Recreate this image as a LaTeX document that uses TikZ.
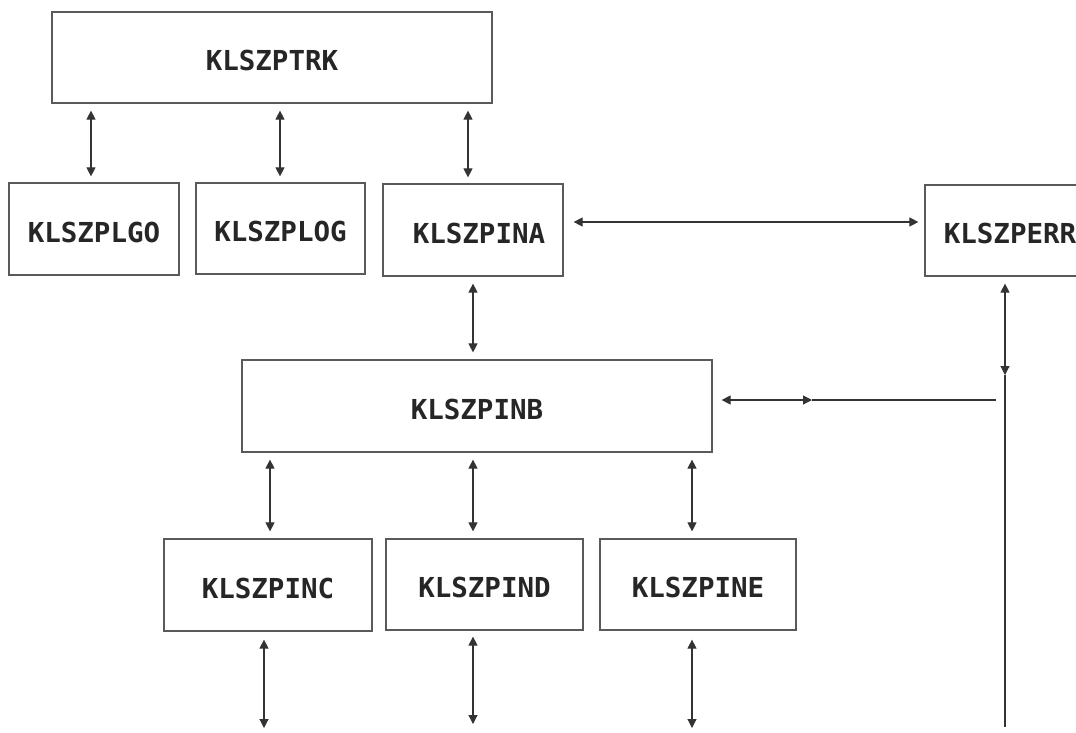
\documentclass[tikz,border=0pt]{standalone}
\usepackage{fontspec}
\newfontfamily\boxfont{DejaVu Sans Mono}
\usetikzlibrary{arrows.meta,calc}
\definecolor{boxline}{HTML}{5A5A5A}
\definecolor{arrline}{HTML}{333333}
\definecolor{txt}{HTML}{262626}
\begin{document}
\begin{tikzpicture}[x=1pt,y=-1pt,
  box/.style={draw=boxline, line width=1.2pt, fill=white, inner sep=0pt,
    text=txt, font=\boxfont\bfseries\fontsize{27.5}{30}\selectfont,
    text height=26pt, text depth=0pt},
  dbl/.style={draw=arrline, line width=1.1pt,
    {Triangle[length=9pt,width=9pt]}-{Triangle[length=9pt,width=9pt]}},
  plain/.style={draw=arrline, line width=1.1pt}]
\useasboundingbox (0,0) rectangle (1076,732);
\clip (0,0) rectangle (1076,732);

% boxes
\node[box, minimum width=440pt, minimum height=91pt] (trk) at (272,57.5) {KLSZPTRK};
\node[box, minimum width=170pt, minimum height=92pt] (plgo) at (94,229) {KLSZPLGO};
\node[box, minimum width=169pt, minimum height=91pt] (plog) at (280.5,228.5) {KLSZPLOG};
\node[box, minimum width=180pt, minimum height=92pt] (pina) at (473,230) {\hspace*{12pt}KLSZPINA};
\node[box, minimum width=170pt, minimum height=91pt] (perr) at (1010,230.5) {KLSZPERR};
\node[box, minimum width=470pt, minimum height=92pt] (pinb) at (477,406) {KLSZPINB};
\node[box, minimum width=208pt, minimum height=92pt] (pinc) at (268,585) {KLSZPINC};
\node[box, minimum width=197pt, minimum height=91pt] (pind) at (484.5,584.5) {KLSZPIND};
\node[box, minimum width=196pt, minimum height=91pt] (pine) at (698,584.5) {KLSZPINE};

% helper coordinates
\coordinate (c1) at (91,0);
\coordinate (c2) at (280,0);
\coordinate (c3) at (468,0);
\coordinate (ca) at (473,0);
\coordinate (b1) at (270,0);
\coordinate (b2) at (473,0);
\coordinate (b3) at (692,0);
\coordinate (hy) at (0,222);
\coordinate (hb) at (0,400);
\coordinate (e1) at (264,728);
\coordinate (e2) at (473,724);
\coordinate (e3) at (692,728);
\coordinate (hm) at (812,400);
\coordinate (he) at (996,400);
\coordinate (rv) at (1005,727);
\coordinate (rm) at (1005,375);

% top connectors
\draw[dbl, shorten <=7pt, shorten >=6pt] (trk.south -| c1) -- (plgo.north -| c1);
\draw[dbl, shorten <=7pt, shorten >=6pt] (trk.south -| c2) -- (plog.north -| c2);
\draw[dbl, shorten <=7pt, shorten >=6pt] (trk.south -| c3) -- (pina.north -| c3);

% PINA - PERR
\draw[dbl, shorten <=10pt, shorten >=6pt] (pina.east |- hy) -- (perr.west |- hy);

% PINA - PINB
\draw[dbl, shorten <=7pt, shorten >=7pt] (pina.south -| ca) -- (pinb.north -| ca);

% PINB - children
\draw[dbl, shorten <=7pt, shorten >=7pt] (pinb.south -| b1) -- (pinc.north -| b1);
\draw[dbl, shorten <=7pt, shorten >=7pt] (pinb.south -| b2) -- (pind.north -| b2);
\draw[dbl, shorten <=7pt, shorten >=7pt] (pinb.south -| b3) -- (pine.north -| b3);

% bottom free arrows
\draw[dbl, shorten <=8pt] (pinc.south -| e1) -- (e1);
\draw[dbl, shorten <=6pt] (pind.south -| e2) -- (e2);
\draw[dbl, shorten <=9pt] (pine.south -| e3) -- (e3);

% right side
\draw[dbl, shorten <=9pt] (pinb.east |- hb) -- (hm);
\draw[plain] (hm) -- (he);
\draw[dbl, shorten <=7pt] (perr.south -| rm) -- (rm);
\draw[plain] (rm) -- (rv);
\end{tikzpicture}
\end{document}
